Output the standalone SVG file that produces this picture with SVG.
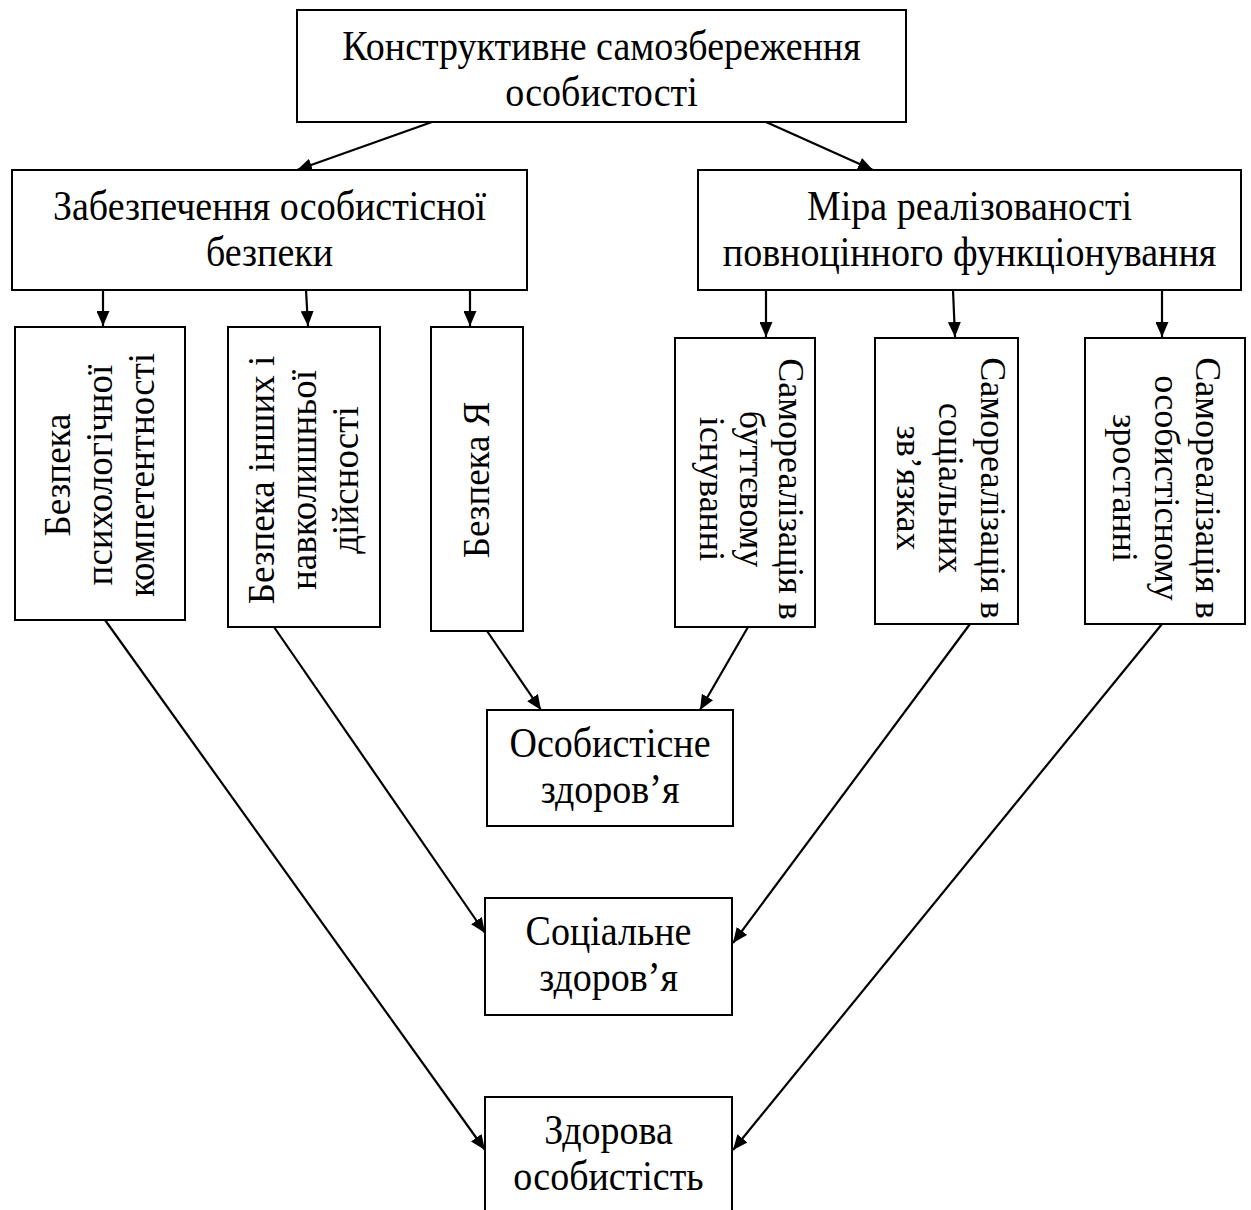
<svg xmlns="http://www.w3.org/2000/svg" width="1251" height="1210" viewBox="0 0 1251 1210">
<defs>
<marker id="ah" markerUnits="userSpaceOnUse" markerWidth="16" markerHeight="13" refX="15" refY="6.5" orient="auto">
<path d="M0,0 L15,6.5 L0,13 z" fill="#000"/>
</marker>
<style>
.box{fill:#fff;stroke:#000;stroke-width:2}
text{font-family:"Liberation Serif","Times New Roman",serif;font-size:38px;fill:#000;text-anchor:middle}
.v text{font-size:37px}
.r text{font-size:36px}
#connectors line{stroke:#000;stroke-width:2.2;marker-end:url(#ah)}
</style>
</defs>
<rect x="0" y="0" width="1251" height="1210" fill="#fff"/>
<g id="connectors">
<line x1="432" y1="122" x2="297" y2="170"/>
<line x1="766" y1="122" x2="873" y2="170"/>
<line x1="103" y1="290" x2="103" y2="326"/>
<line x1="306" y1="290" x2="308" y2="326"/>
<line x1="470" y1="290" x2="470" y2="326"/>
<line x1="766" y1="290" x2="766" y2="337"/>
<line x1="953" y1="290" x2="955" y2="337"/>
<line x1="1162" y1="290" x2="1162" y2="337"/>
<line x1="487" y1="631" x2="541" y2="710"/>
<line x1="748" y1="627" x2="700" y2="710"/>
<line x1="274" y1="627" x2="485" y2="933"/>
<line x1="970" y1="624" x2="733" y2="943"/>
<line x1="105" y1="620" x2="485" y2="1150"/>
<line x1="1162" y1="624" x2="733" y2="1150"/>
</g>
<g id="n1">
<rect class="box" x="297" y="10" width="609" height="112"/>
<text transform="translate(601.5,60) scale(1,1.1)">Конструктивне самозбереження</text>
<text transform="translate(601.5,106) scale(1,1.1)">особистості</text>
</g>
<g id="n2">
<rect class="box" x="12" y="170" width="515" height="120"/>
<text transform="translate(269.5,220) scale(1,1.1)">Забезпечення особистісної</text>
<text transform="translate(269.5,266) scale(1,1.1)">безпеки</text>
</g>
<g id="n3">
<rect class="box" x="698" y="170" width="543" height="120"/>
<text transform="translate(969.5,220) scale(1,1.1)">Міра реалізованості</text>
<text transform="translate(969.5,266) scale(1,1.1)">повноцінного функціонування</text>
</g>
<g id="na" class="v">
<rect class="box" x="15" y="327" width="170" height="293"/>
<g transform="translate(100,475) rotate(-90)">
<text x="0" y="-30">Безпека</text>
<text x="0" y="12">психологічної</text>
<text x="0" y="54">компетентності</text>
</g>
</g>
<g id="nb" class="v">
<rect class="box" x="228" y="327" width="152" height="300"/>
<g transform="translate(304,480) rotate(-90)">
<text x="0" y="-30">Безпека інших і</text>
<text x="0" y="12">навколишньої</text>
<text x="0" y="54">дійсності</text>
</g>
</g>
<g id="nc" class="v">
<rect class="box" x="431" y="327" width="92" height="304"/>
<g transform="translate(477,480) rotate(-90)">
<text x="0" y="12">Безпека Я</text>
</g>
</g>
<g id="nd" class="v r">
<rect class="box" x="675" y="338" width="140" height="289"/>
<g transform="translate(745,489) rotate(90)">
<text x="0" y="-34">Самореалізація в</text>
<text x="0" y="5">буттєвому</text>
<text x="0" y="45">існуванні</text>
</g>
</g>
<g id="ne" class="v r">
<rect class="box" x="875" y="338" width="143" height="286"/>
<g transform="translate(946.5,488) rotate(90)">
<text x="0" y="-34">Самореалізація в</text>
<text x="0" y="8">соціальних</text>
<text x="0" y="50">зв’язках</text>
</g>
</g>
<g id="nf" class="v r">
<rect class="box" x="1085" y="338" width="160" height="286"/>
<g transform="translate(1165,488) rotate(90)">
<text x="0" y="-31">Самореалізація в</text>
<text x="0" y="10">особистісному</text>
<text x="0" y="52">зростанні</text>
</g>
</g>
<g id="ng">
<rect class="box" x="487" y="710" width="246" height="116"/>
<text transform="translate(610,757) scale(1,1.1)">Особистісне</text>
<text transform="translate(610,803) scale(1,1.1)">здоров’я</text>
</g>
<g id="nh">
<rect class="box" x="485" y="898" width="247" height="117"/>
<text transform="translate(608.5,945) scale(1,1.1)">Соціальне</text>
<text transform="translate(608.5,991) scale(1,1.1)">здоров’я</text>
</g>
<g id="ni">
<rect class="box" x="485" y="1097" width="247" height="130"/>
<text transform="translate(608.5,1144) scale(1,1.1)">Здорова</text>
<text transform="translate(608.5,1190) scale(1,1.1)">особистість</text>
</g>
</svg>
